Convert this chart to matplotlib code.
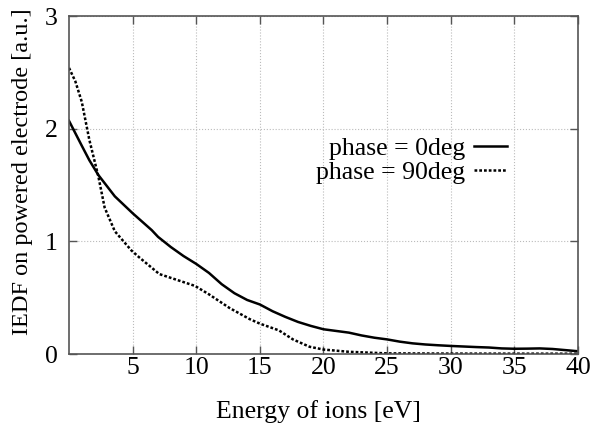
import matplotlib
matplotlib.use("Agg")
import matplotlib.pyplot as plt
import numpy as np

plt.rcParams['font.family'] = ['Liberation Serif', 'DejaVu Serif']

# energy [eV] and IEDF values
energy_0 = [0, 1, 1.6, 2.3, 3.6, 5, 5.5, 6.5, 7, 8, 9, 10, 11, 12, 13, 14, 15,
            16, 17, 18, 19, 20, 21, 22, 23, 24, 25, 26, 27, 28, 29, 30, 32,
            33, 34, 35, 36, 37, 38, 39, 40]
iedf_0 = [2.07, 1.85, 1.72, 1.59, 1.40, 1.25, 1.20, 1.10, 1.04, 0.95, 0.87,
          0.80, 0.72, 0.62, 0.54, 0.48, 0.44, 0.38, 0.33, 0.285, 0.25, 0.22,
          0.205, 0.19, 0.165, 0.145, 0.13, 0.11, 0.095, 0.085, 0.078, 0.072,
          0.062, 0.058, 0.05, 0.047, 0.048, 0.05, 0.045, 0.035, 0.025]

energy_90 = [0, 0.5, 1, 1.6, 2.3, 2.8, 3.6, 4.9, 5.5, 7.1, 8.7, 9.9, 11,
             12.6, 14.2, 15, 16, 16.5, 17.6, 18.9, 20, 22, 25, 30, 40]
iedf_90 = [2.54, 2.42, 2.24, 1.90, 1.58, 1.30, 1.09, 0.92, 0.86, 0.71, 0.65,
           0.605, 0.53, 0.41, 0.31, 0.27, 0.23, 0.21, 0.13, 0.065, 0.04, 0.02,
           0.006, 0.004, 0.003]

xticks = [5, 10, 15, 20, 25, 30, 35, 40]
yticks = [0, 1, 2, 3]

fig = plt.figure(figsize=(5.97, 4.23), dpi=100)
ax = fig.add_axes([0.1156, 0.163, 0.8525, 0.799])

ax.plot(energy_0, iedf_0, color='black', lw=1.8, label='phase = 0deg')
ax.plot(energy_90, iedf_90, color='black', lw=1.8, dashes=(1.1, 0.8),
        label='phase = 90deg')

ax.set_xlim(0, 40)
ax.set_ylim(0, 3)
ax.set_xticks(xticks)
ax.set_yticks(yticks)
ax.tick_params(direction='in', length=6, width=1, top=True, right=True,
               labelsize=18.5, color='#555555')
ax.tick_params(axis='x', pad=2)
ax.tick_params(axis='y', pad=8)
ax.grid(True, color='#bbbbbb', linestyle=':', linewidth=0.8)
for s in ax.spines.values():
    s.set_color('#555555')
    s.set_linewidth(1.2)

ax.set_xlabel('Energy of ions [eV]', fontsize=18.5)
ax.xaxis.set_label_coords(0.49, -0.135)
ax.set_ylabel('IEDF on powered electrode [a.u.]', fontsize=17.5)
ax.yaxis.set_label_coords(-0.07, 0.54)

ax.legend(loc='upper right', bbox_to_anchor=(0.885, 0.68), frameon=False,
          markerfirst=False, fontsize=18.5, handlelength=1.25,
          handletextpad=0.35, labelspacing=0.05, borderpad=0)

fig.savefig('out.png', dpi=100)
